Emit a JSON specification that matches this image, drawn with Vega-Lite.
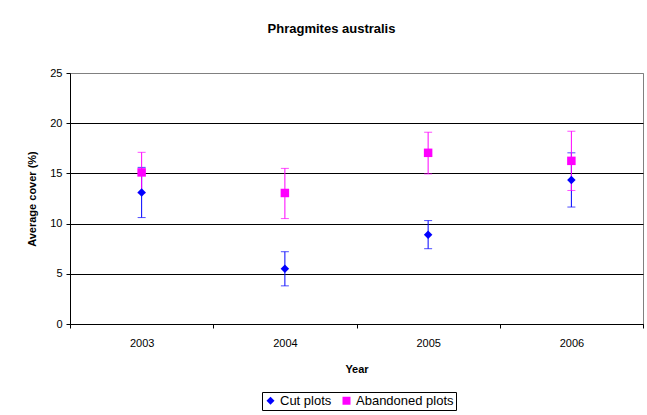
{
  "$schema": "https://vega.github.io/schema/vega-lite/v6.json",
  "width": 573,
  "height": 251,
  "autosize": {"type": "none"},
  "padding": {"left": 70, "top": 73, "right": 4, "bottom": 91},
  "background": "white",
  "config": {
    "font": "Liberation Sans",
    "view": {"stroke": "#808080", "strokeWidth": 1},
    "axis": {"labelFont": "Liberation Sans", "titleFont": "Liberation Sans", "labelColor": "black", "titleColor": "black", "domainColor": "black", "tickColor": "black"}
  },
  "title": {
    "text": "Phragmites australis",
    "font": "Liberation Sans",
    "fontSize": 13,
    "fontWeight": "bold",
    "color": "black",
    "anchor": "middle",
    "dx": -25,
    "offset": 31
  },
  "data": {
    "values": [
      {"year": "2003", "series": "Cut plots", "mean": 13.1, "low": 10.6, "high": 15.6},
      {"year": "2004", "series": "Cut plots", "mean": 5.5, "low": 3.8, "high": 7.2},
      {"year": "2005", "series": "Cut plots", "mean": 8.9, "low": 7.5, "high": 10.3},
      {"year": "2006", "series": "Cut plots", "mean": 14.35, "low": 11.65, "high": 17.05},
      {"year": "2003", "series": "Abandoned plots", "mean": 15.1, "low": 13.05, "high": 17.1},
      {"year": "2004", "series": "Abandoned plots", "mean": 13.05, "low": 10.5, "high": 15.5},
      {"year": "2005", "series": "Abandoned plots", "mean": 17.05, "low": 14.95, "high": 19.1},
      {"year": "2006", "series": "Abandoned plots", "mean": 16.25, "low": 13.3, "high": 19.2}
    ]
  },
  "encoding": {
    "x": {
      "field": "year",
      "type": "nominal",
      "scale": {"paddingInner": 0, "paddingOuter": 0},
      "axis": {
        "title": "Year",
        "titleFontSize": 11,
        "titleFontWeight": "bold",
        "titlePadding": 15,
        "labelFontSize": 11,
        "labelAngle": 0,
        "labelPadding": 9,
        "tickSize": 4,
        "tickBand": "extent",
        "grid": false,
        "domainColor": "black"
      }
    }
  },
  "layer": [
    {
      "transform": [{"filter": "datum.series == 'Cut plots'"}],
      "layer": [
        {"mark": {"type": "rule", "strokeWidth": 1, "color": "#0000FF"}, "encoding": {"y": {"field": "low", "type": "quantitative"}, "y2": {"field": "high"}}},
        {"mark": {"type": "tick", "size": 8, "thickness": 1, "color": "#0000FF"}, "encoding": {"y": {"field": "low", "type": "quantitative"}}},
        {"mark": {"type": "tick", "size": 8, "thickness": 1, "color": "#0000FF"}, "encoding": {"y": {"field": "high", "type": "quantitative"}}}
      ]
    },
    {
      "transform": [{"filter": "datum.series == 'Abandoned plots'"}],
      "layer": [
        {"mark": {"type": "rule", "strokeWidth": 1, "color": "#FF00FF"}, "encoding": {"y": {"field": "low", "type": "quantitative"}, "y2": {"field": "high"}}},
        {"mark": {"type": "tick", "size": 8, "thickness": 1, "color": "#FF00FF"}, "encoding": {"y": {"field": "low", "type": "quantitative"}}},
        {"mark": {"type": "tick", "size": 8, "thickness": 1, "color": "#FF00FF"}, "encoding": {"y": {"field": "high", "type": "quantitative"}}}
      ]
    },
    {
      "mark": {"type": "point", "filled": true, "opacity": 1, "size": 72},
      "encoding": {
        "y": {
          "field": "mean",
          "type": "quantitative",
          "scale": {"domain": [0, 25], "nice": false, "zero": true},
          "axis": {
            "title": "Average cover (%)",
            "titleFontSize": 11,
            "titleFontWeight": "bold",
            "titlePadding": 12,
            "values": [0, 5, 10, 15, 20, 25],
            "labelFontSize": 11,
            "labelPadding": 4,
            "tickSize": 4,
            "grid": true,
            "gridColor": {"condition": {"test": "datum.value == 25", "value": "#808080"}, "value": "black"},
            "gridOpacity": 1,
            "gridWidth": 1
          }
        },
        "color": {
          "field": "series",
          "type": "nominal",
          "scale": {"domain": ["Cut plots", "Abandoned plots"], "range": ["#0000FF", "#FF00FF"]},
          "legend": {
            "title": null,
            "orient": "none",
            "legendX": 192,
            "legendY": 319,
            "direction": "horizontal",
            "labelFont": "Liberation Sans",
            "labelFontSize": 13,
            "labelColor": "black",
            "strokeColor": "black",
            "fillColor": "white",
            "padding": 2,
            "symbolSize": 64,
            "columnPadding": 8,
            "labelOffset": 3
          }
        },
        "shape": {
          "field": "series",
          "type": "nominal",
          "scale": {"domain": ["Cut plots", "Abandoned plots"], "range": ["diamond", "square"]}
        }
      }
    }
  ]
}
